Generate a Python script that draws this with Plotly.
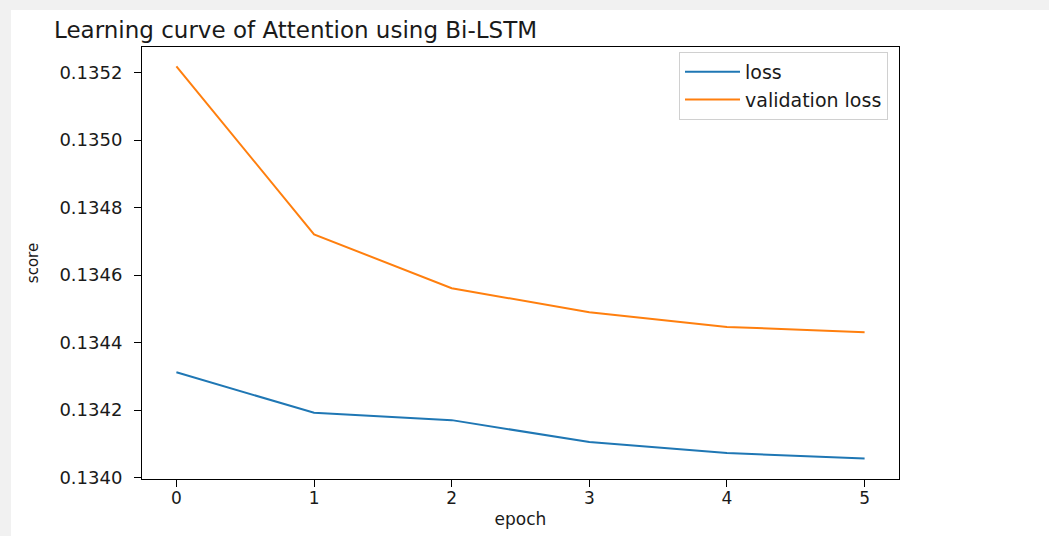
import plotly.graph_objects as go

epochs = [0, 1, 2, 3, 4, 5]
loss = [0.1343124, 0.1341920, 0.1341704, 0.1341053, 0.1340728, 0.1340568]
val_loss = [0.1352186, 0.1347207, 0.1345610, 0.1344900, 0.1344464, 0.1344310]
ytick_vals = [0.1340, 0.1342, 0.1344, 0.1346, 0.1348, 0.1350, 0.1352]

FONT = "DejaVu Sans"
TXT = "#1a1a1a"

fig = go.Figure()
fig.add_trace(go.Scatter(x=epochs, y=loss, mode="lines", name="loss",
                         line=dict(color="#1f77b4", width=2)))
fig.add_trace(go.Scatter(x=epochs, y=val_loss, mode="lines", name="validation loss",
                         line=dict(color="#ff7f0e", width=2)))

L, R, T, B = 142, 150, 47, 57
W, H = 1049, 536
pw, ph = W - L - R, H - T - B

# white canvas over light-gray page edge
fig.add_shape(type="rect", xref="paper", yref="paper",
              x0=(11 - L) / pw, x1=(W + 60 - L) / pw,
              y0=-(B + 60) / ph, y1=(H - B - 10) / ph,
              fillcolor="white", line=dict(width=0), layer="below")

fig.update_layout(
    width=W, height=H,
    margin=dict(l=L, r=R, t=T, b=B, autoexpand=False),
    paper_bgcolor="#f1f1f1",
    plot_bgcolor="white",
    font=dict(family=FONT, color=TXT, size=17),
    title=dict(text="Learning curve of Attention using Bi-LSTM",
               x=54 / W, xanchor="left", y=1 - 30 / H, yanchor="middle",
               font=dict(size=23, color=TXT)),
    showlegend=True,
    legend=dict(x=(888 - L) / pw, xanchor="right", y=(H - B - 52) / ph, yanchor="top",
                bgcolor="white", bordercolor="#d0d0d0", borderwidth=1,
                font=dict(size=19, color=TXT), tracegroupgap=0,
                itemwidth=55),
    xaxis=dict(range=[-0.25, 5.25], tickmode="array", tickvals=epochs,
               ticktext=[str(e) for e in epochs], automargin=False,
               showgrid=False, zeroline=False, showline=True, linecolor="black",
               linewidth=1, mirror=True, ticks="outside", ticklen=7,
               tickcolor="black", tickfont=dict(size=17), ticklabelstandoff=-3,
               title=dict(text="epoch", font=dict(size=17), standoff=5)),
    yaxis=dict(range=[0.133996, 0.1352757], tickmode="array", tickvals=ytick_vals,
               ticktext=[f"{v:.4f}" for v in ytick_vals], automargin=False,
               showgrid=False, zeroline=False, showline=True, linecolor="black",
               linewidth=1, mirror=True, ticks="outside", ticklen=7,
               tickcolor="black", tickfont=dict(size=18), ticklabelstandoff=8,
               title=dict(text="score", font=dict(size=15), standoff=17)),
)

fig.write_html("out.html")
